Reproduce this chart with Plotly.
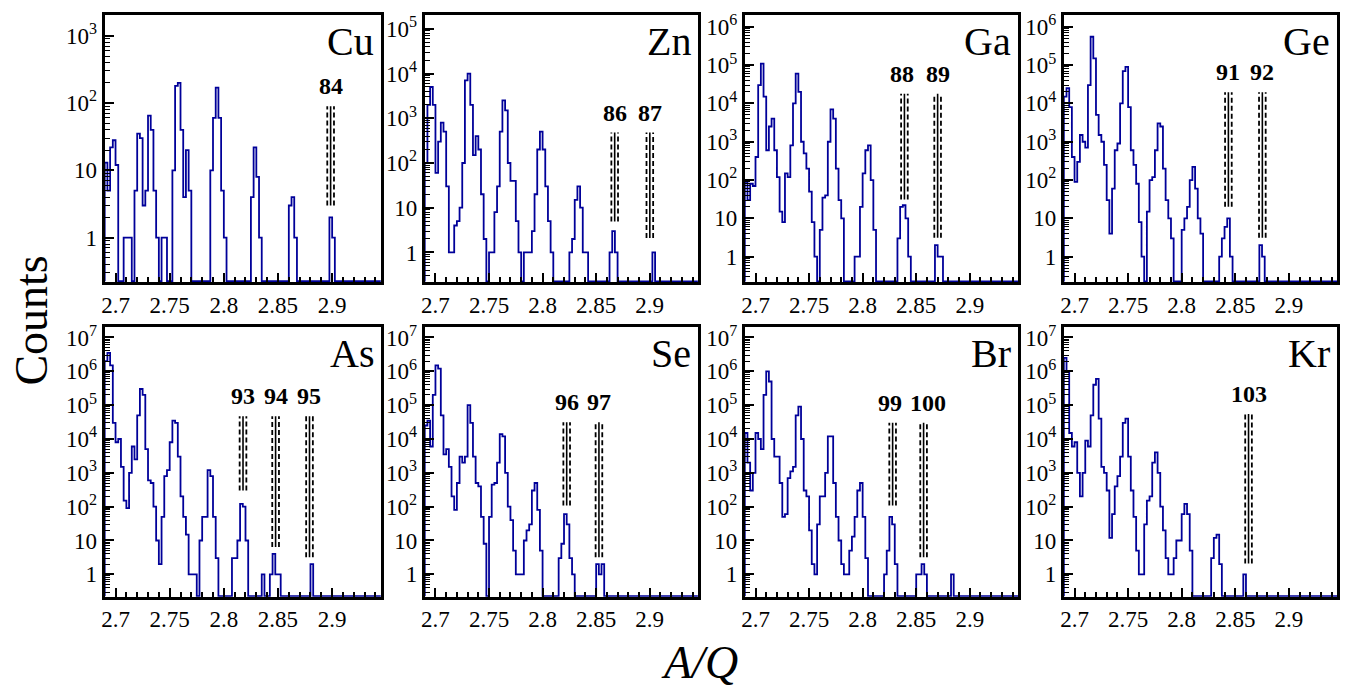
import math
import plotly.graph_objects as go

# ---- binning shared by all A/Q spectra ----
X0 = 2.69
BIN_W = 0.0025
NBINS = 102

# counts per bin, starting at X0 (bins past the end of each list are empty)
cu_counts = [13, 5, 22, 28, 12, 0, 0, 1, 1, 1, 0, 5, 35, 30, 3, 5, 65, 40, 5, 1,
             0, 1, 1, 0, 0, 10, 180, 200, 40, 4, 20, 5, 0, 0, 0, 0, 0, 0, 0, 10,
             60, 170, 60, 5, 1, 0, 0, 0, 0, 0, 0, 0, 0, 0, 4, 22, 8, 1, 0, 0,
             0, 0, 0, 0, 0, 0, 0, 0, 3, 4, 1, 0, 0, 0, 0, 0, 0, 0, 0, 0,
             0, 0, 0, 2, 1]
zn_counts = [100, 2000, 5000, 2000, 60, 300, 800, 500, 30, 1, 1, 4, 5, 10, 100, 7000,
             10000, 2000, 150, 400, 200, 20, 2, 0, 1, 1, 8, 30, 500, 2500, 1500, 100,
             40, 40, 5, 1, 0, 1, 1, 1, 3, 20, 200, 500, 200, 30, 5, 1, 0, 0,
             0, 0, 0, 0, 1, 2, 15, 30, 10, 1, 1, 0, 0, 0, 0, 0, 0, 0, 0, 1,
             3, 1, 0, 0, 0, 0, 0, 0, 0, 0, 0, 0, 0, 0, 0, 1]
ga_counts = [90, 30, 80, 70, 400, 30000, 110000, 15000, 600, 2500, 4000, 600, 120, 15,
             8, 150, 120, 800, 10000, 60000, 20000, 1000, 500, 200, 50, 8, 1, 0, 5,
             35, 40, 1000, 7000, 4000, 200, 30, 10, 0, 0, 0, 0, 1, 1, 20, 150, 600,
             800, 100, 5, 0, 0, 0, 0, 0, 0, 0, 0, 3, 20, 22, 10, 1, 0, 0, 0,
             0, 0, 0, 0, 0, 0, 2, 1, 1]
ge_counts = [15000, 25000, 8000, 400, 90, 300, 1500, 1000, 700, 30000, 550000, 150000,
             5000, 1500, 1000, 250, 30, 4, 60, 600, 900, 10000, 70000, 90000, 8000,
             600, 250, 80, 8, 1, 0, 15, 100, 120, 600, 3000, 2500, 200, 30, 10, 3,
             0, 0, 0, 5, 10, 20, 100, 220, 60, 10, 4, 0, 0, 0, 0, 0, 0, 1, 3, 6,
             10, 1, 0, 0, 0, 0, 0, 0, 0, 0, 0, 0, 2, 1]
as_counts = [2000000, 3500000, 1500000, 30000, 8000, 10000, 1500, 150, 90, 1000, 6000,
             2500, 50000, 300000, 200000, 5000, 600, 500, 100, 10, 2, 50, 800, 1200,
             8000, 35000, 30000, 3000, 200, 50, 15, 1, 1, 1, 0, 10, 50, 50, 1200, 800,
             50, 3, 0, 0, 0, 0, 0, 3, 3, 10, 120, 100, 10, 0, 0, 0, 0, 0, 1, 0,
             0, 1, 4, 1, 1, 0, 0, 0, 0, 0, 0, 0, 0, 0, 0, 0, 2]
se_counts = [25000, 35000, 6000, 200000, 1500000, 1200000, 50000, 3500, 5000, 1500, 200,
             80, 500, 3000, 2000, 3000, 100000, 30000, 3000, 500, 400, 50, 8, 0, 50,
             450, 500, 2000, 14000, 12000, 1000, 100, 40, 5, 1, 1, 1, 10, 20, 30, 300,
             500, 80, 5, 0, 0, 0, 0, 0, 0, 3, 8, 60, 30, 3, 1, 0, 0, 0, 0, 0, 0,
             0, 0, 2, 1, 2]
br_counts = [15000, 2000, 300, 1000, 15000, 10000, 5000, 200000, 1000000, 500000, 10000,
             3000, 3000, 500, 50, 60, 700, 1100, 1500, 50000, 90000, 10000, 300, 200, 20,
             2, 1, 30, 200, 200, 1000, 12000, 12000, 500, 50, 10, 2, 1, 1, 5, 13, 50,
             300, 500, 50, 3, 0, 0, 0, 0, 0, 0, 1, 5, 50, 30, 2, 0, 0, 0, 0, 0, 0,
             0, 1, 1, 2, 1, 0, 0, 0, 0, 0, 0, 0, 0, 0, 1]
kr_counts = [2500000, 1000000, 15000, 6000, 8000, 1000, 200, 1000, 9000, 6000, 50000,
             400000, 600000, 40000, 1500, 1000, 300, 12, 60, 400, 800, 3000, 30000, 40000,
             3000, 300, 50, 5, 1, 1, 30, 150, 200, 2000, 4000, 1000, 100, 20, 3, 1, 1,
             3, 10, 10, 60, 120, 60, 5, 0, 0, 0, 0, 0, 0, 0, 3, 12, 15, 2, 0, 0,
             0, 0, 0, 0, 0, 0, 1]

elements = ["Cu", "Zn", "Ga", "Ge", "As", "Se", "Br", "Kr"]
spectra = [cu_counts, zn_counts, ga_counts, ge_counts,
           as_counts, se_counts, br_counts, kr_counts]
y_top_exp = [3.31, 5.31, 6.31, 6.31, 7.32, 7.32, 7.32, 7.32]
y_bottom_exp = -0.66

# ---- isotope gates: panel index, mass number, centre, vertical extent ----
iso_panel = [0, 1, 1, 2, 2, 3, 3, 4, 4, 4, 5, 5, 6, 6, 7]
iso_label = ["84", "86", "87", "88", "89", "91", "92", "93", "94", "95",
             "96", "97", "99", "100", "103"]
iso_x = [2.8986, 2.8673, 2.9001, 2.8390, 2.8700, 2.8436, 2.8753, 2.8177, 2.8478,
         2.8791, 2.8225, 2.8526, 2.8280, 2.8569, 2.8624]
iso_lo = [3, 4.9, 2.1, 31, 3.1, 20, 3.1, 300, 6.4, 3.2, 108, 3.2, 108, 3.2, 2.1]
iso_hi = [90, 480, 480, 18000, 18000, 19500, 19500, 47000, 47000, 47000,
          31000, 31000, 30000, 30000, 55000]
GATE_HALF = 0.0031

x_tick_vals = [2.7, 2.75, 2.8, 2.85, 2.9]
x_tick_text = ["2.7", "2.75", "2.8", "2.85", "2.9"]

# ---- page geometry (pixels) ----
W, H = 1346, 687
col_px = [(101, 378), (422, 696), (743, 1017), (1063, 1337)]
row_px = [(10, 279), (324, 596)]
FONT = "Liberation Serif"
HIST_COLOR = "#000099"
FLOOR = 10 ** (y_bottom_exp + 0.012)
LABEL_NUDGE = {"88": -2, "99": -3, "100": 4}

fig = go.Figure()
layout = dict(width=W, height=H, margin=dict(l=0, r=0, t=0, b=0),
              paper_bgcolor="white", plot_bgcolor="white", showlegend=False,
              font=dict(family=FONT, color="black"))
annotations = []


def sup_label(e):
    if e == 0:
        return "1"
    if e == 1:
        return "10"
    return "10<sup>%d</sup>" % e


for p, (name, counts) in enumerate(zip(elements, spectra)):
    n = p + 1
    suffix = "" if n == 1 else str(n)
    row, col = divmod(p, 4)
    x0p, x1p = col_px[col]
    y0p, y1p = row_px[row]
    xa, ya = "x" + suffix, "y" + suffix
    top_exp = y_top_exp[p]
    max_dec = int(math.floor(top_exp))

    filled = counts + [0] * (NBINS - len(counts))
    xs = [X0] + [X0 + BIN_W * k for k in range(NBINS)] + [X0 + BIN_W * NBINS]
    ys = [FLOOR] + [c if c > 0 else FLOOR for c in filled] + [filled[-1] if filled[-1] > 0 else FLOOR]
    fig.add_trace(go.Scatter(x=xs, y=ys, mode="lines", xaxis=xa, yaxis=ya,
                             line=dict(color=HIST_COLOR, width=1.8, shape="hv"),
                             hoverinfo="skip"))

    # gate lines: solid centre with dashed limits either side
    sx, sy, dx, dy = [], [], [], []
    for k, pi in enumerate(iso_panel):
        if pi != p:
            continue
        sx += [iso_x[k], iso_x[k], None]
        sy += [iso_lo[k], iso_hi[k], None]
        for off in (-GATE_HALF, GATE_HALF):
            dx += [iso_x[k] + off, iso_x[k] + off, None]
            dy += [iso_lo[k], iso_hi[k], None]
        annotations.append(dict(
            text="<b>%s</b>" % iso_label[k], x=iso_x[k], y=math.log10(iso_hi[k]),
            xref=xa, yref=ya, xanchor="center", yanchor="bottom", showarrow=False,
            xshift=LABEL_NUDGE.get(iso_label[k], 0), yshift=5,
            font=dict(family=FONT, size=24, color="black")))
    fig.add_trace(go.Scatter(x=dx, y=dy, mode="lines", xaxis=xa, yaxis=ya,
                             line=dict(color="black", width=1.8, dash="5px,3px"),
                             hoverinfo="skip"))
    fig.add_trace(go.Scatter(x=sx, y=sy, mode="lines", xaxis=xa, yaxis=ya,
                             line=dict(color="black", width=1.6),
                             hoverinfo="skip"))

    layout["xaxis" + suffix] = dict(
        domain=[x0p / W, x1p / W], range=[X0, X0 + BIN_W * NBINS], anchor=ya,
        showline=True, linewidth=3, linecolor="black", mirror=True,
        showgrid=False, zeroline=False, ticks="inside", ticklen=9, tickwidth=1.5,
        tickcolor="black", tickmode="array", tickvals=x_tick_vals, ticktext=x_tick_text,
        tickfont=dict(family=FONT, size=23, color="black"),
        minor=dict(ticks="inside", ticklen=5, tickwidth=1.5, tickcolor="black",
                   tickmode="array",
                   tickvals=[round(2.69 + 0.01 * k, 3) for k in range(26)]))
    minor_y = [m * 10 ** d for d in range(-1, max_dec + 1) for m in range(2, 10)
               if y_bottom_exp < math.log10(m * 10 ** d) < top_exp]
    layout["yaxis" + suffix] = dict(
        domain=[1 - y1p / H, 1 - y0p / H], type="log", range=[y_bottom_exp, top_exp],
        anchor=xa, showline=True, linewidth=3, linecolor="black", mirror=True,
        showgrid=False, zeroline=False, ticks="inside", ticklen=9, tickwidth=1.5,
        tickcolor="black", tickmode="array",
        tickvals=[10 ** e for e in range(0, max_dec + 1)],
        ticktext=[sup_label(e) for e in range(0, max_dec + 1)],
        tickfont=dict(family=FONT, size=23, color="black"),
        minor=dict(ticks="inside", ticklen=5, tickwidth=1.2, tickcolor="black",
                   tickmode="array", tickvals=minor_y))

    annotations.append(dict(
        text=name, x=1, y=1, xref="%s domain" % xa, yref="%s domain" % ya,
        xanchor="right", yanchor="top", xshift=-5, yshift=-2, showarrow=False,
        font=dict(family=FONT, size=40, color="black")))

annotations.append(dict(text="Counts", x=28 / W, y=1 - 318 / H, xref="paper", yref="paper",
                        xanchor="center", yanchor="middle", textangle=-90, showarrow=False,
                        font=dict(family=FONT, size=46, color="black")))
annotations.append(dict(text="<i>A/Q</i>", x=698 / W, y=1 - 662 / H, xref="paper",
                        yref="paper", xanchor="center", yanchor="middle", showarrow=False,
                        font=dict(family=FONT, size=46, color="black")))
layout["annotations"] = annotations
fig.update_layout(**layout)
fig.write_html("out.html")
